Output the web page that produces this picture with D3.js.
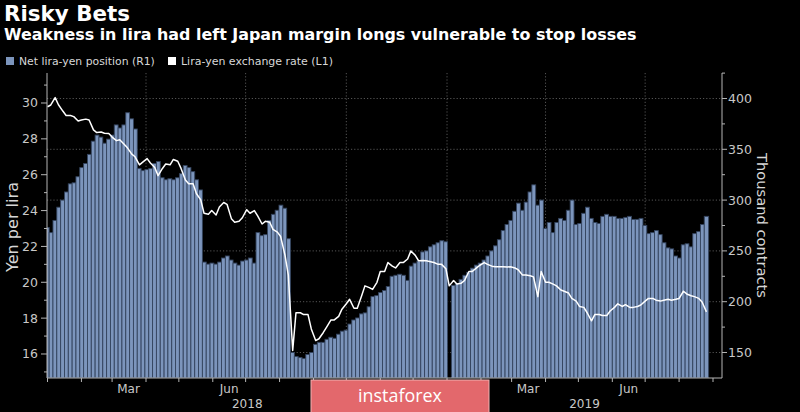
<!DOCTYPE html>
<html><head><meta charset="utf-8">
<script src="https://cdn.jsdelivr.net/npm/d3@7"></script>
<style>
html,body{margin:0;padding:0;background:#000;}
svg{display:block;}
</style></head><body>
<svg id="c" width="800" height="412"></svg>
<script>
// Net lira-yen position (thousand contracts, right axis) — twice-weekly observations
const positions = [
273,268,280,293,300,308,316,317,323,332,
336,345,358,364,362,356,360,364,374,371,
374,386,380,370,331,329,330,331,336,338,
322,320,321,320,322,326,334,332,328,320,
310,239,237,238,237,239,243,245,241,238,
236,240,241,243,238,268,265,266,280,286,
290,295,292,262,150,146,145,144,148,150,
158,160,160,163,165,164,168,171,172,178,
182,184,188,189,195,205,206,209,211,215,
225,226,227,226,221,235,238,240,249,250,
254,256,258,260,259,null,216,218,222,226,
229,233,236,238,241,245,250,255,261,270,
276,280,289,297,290,298,308,315,295,300,
272,278,268,278,282,280,290,300,276,277,
287,293,282,278,277,284,286,284,284,282,
282,283,284,281,281,282,275,267,268,270,
266,258,253,252,245,243,256,257,254,267,
269,276,284
];
// Lira-yen exchange rate (yen per lira, left axis)
const rates = [
29.79,29.89,30.30,29.90,29.55,29.30,29.30,29.24,29.00,29.05,
29.10,29.05,28.50,28.35,28.38,28.31,28.30,28.10,27.90,27.95,
27.70,27.50,27.15,27.00,26.55,26.70,26.90,26.65,26.40,25.95,
26.35,26.60,26.55,26.85,26.75,26.35,25.70,25.50,25.50,24.95,
24.60,23.85,23.80,24.00,23.75,24.20,24.45,24.35,23.55,23.35,
23.40,23.60,24.05,23.85,24.00,23.70,23.25,23.40,23.35,22.95,
22.80,22.55,21.50,20.40,16.20,18.30,18.30,18.20,18.20,17.40,
16.75,16.85,17.20,17.50,17.90,17.90,18.10,18.50,18.80,19.05,
18.55,18.55,19.25,19.80,19.70,19.60,20.00,20.60,20.60,21.10,
20.90,20.80,21.10,21.10,21.30,21.75,21.50,21.20,21.22,21.20,
21.15,21.10,21.00,21.00,20.75,19.80,20.10,19.90,19.95,20.10,
20.60,20.60,20.80,20.95,21.10,21.00,20.90,20.87,20.87,20.87,
20.85,20.87,20.80,20.70,20.40,20.41,20.36,20.30,19.20,20.60,
20.00,20.00,19.90,19.80,19.57,19.50,19.40,19.10,18.95,18.65,
18.60,18.30,17.85,18.20,18.20,18.15,18.15,18.40,18.60,18.80,
18.65,18.75,18.60,18.60,18.65,18.73,18.95,19.10,19.10,19.00,
18.95,19.00,19.05,19.00,19.05,19.10,19.50,19.35,19.25,19.20,
19.10,18.90,18.35
];
// Observation dates: Mondays and Thursdays, Jan 1 2018 - Aug 26 2019
const dates = d3.timeDay.range(new Date(2018,0,1), new Date(2019,7,27))
  .filter(d => d.getDay() === 1 || d.getDay() === 4);

const leftTicks = [16,18,20,22,24,26,28,30];
const leftMinor = [15,17,19,21,23,25,27,29,31];
const rightTicks = [150,200,250,300,350,400];
const rightMinor = [175,225,275,325,375,425];
const monthLabels = ["Mar","Jun","Mar","Jun"];
const monthLabelDates = ["2018-03-16","2018-06-16","2019-03-16","2019-06-16"];
const yearLabels = ["2018","2019"];
const yearStarts = ["2018-01-01","2019-01-01"];
const gridDates = ["2018-04-01","2018-07-01","2018-10-01","2019-01-01","2019-04-01","2019-07-01"];

const title = "Risky Bets";
const subtitle = "Weakness in lira had left Japan margin longs vulnerable to stop losses";
const legendItems = ["Net lira-yen position (R1)", "Lira-yen exchange rate (L1)"];

const svg = d3.select("#c");
const L = 47, R = 722, T = 73, B = 378;
const font = "'DejaVu Sans', sans-serif";
const parse = d3.timeParse("%Y-%m-%d");

const x = d3.scaleTime()
  .domain([new Date(2017,11,31,13), new Date(2019,8,9,5)])
  .range([L, R]);
const yL = d3.scaleLinear().domain([14.661, 31.673]).range([B, T]);
const yR = d3.scaleLinear().domain([124.9, 425.1]).range([B, T]);

function fit(sel, w) {
  const fs = parseFloat(sel.attr("font-size"));
  const len = sel.node().getComputedTextLength();
  if (len > 0) sel.attr("font-size", fs * w / len);
  return sel;
}

svg.append("rect").attr("width",800).attr("height",412).attr("fill","#000");

svg.append("defs").append("clipPath").attr("id","plot")
  .append("rect").attr("x",L).attr("y",T).attr("width",R-L).attr("height",B-T);

// gridlines
const grid = svg.append("g");
grid.selectAll("line.h").data(rightTicks).join("line")
  .attr("x1",L).attr("x2",R).attr("y1",d=>yR(d)).attr("y2",d=>yR(d))
  .attr("stroke","#6a6a6a").attr("stroke-width",0.8).attr("stroke-dasharray","1.2,2");
grid.selectAll("line.v").data(gridDates).join("line")
  .attr("x1",d=>x(parse(d))).attr("x2",d=>x(parse(d))).attr("y1",T).attr("y2",B)
  .attr("stroke","#6a6a6a").attr("stroke-width",0.8).attr("stroke-dasharray","1.2,2");

// bars
const barData = dates.map((d,i) => ({d, v: positions[i], i})).filter(o => o.v != null);
const xs = dates.map(d => x(d));
function edgeL(i){ return i === 0 ? xs[0] - (xs[1]-xs[0])/2 : (xs[i-1]+xs[i])/2; }
function edgeR(i){ return i === xs.length-1 ? xs[i] + (xs[i]-xs[i-1])/2 : (xs[i]+xs[i+1])/2; }
svg.append("g").attr("clip-path","url(#plot)")
  .selectAll("rect").data(barData).join("rect")
  .attr("x", o => edgeL(o.i))
  .attr("width", o => edgeR(o.i) - edgeL(o.i))
  .attr("y", o => yR(o.v))
  .attr("height", o => B - yR(o.v))
  .attr("fill","#7c95bc")
  .attr("stroke","#34445e").attr("stroke-width",0.9);

// line
const line = d3.line().x((d,i)=>x(dates[i])).y(d=>yL(d));
svg.append("path").datum(rates)
  .attr("d", line)
  .attr("fill","none").attr("stroke","#fff").attr("stroke-width",1.5)
  .attr("stroke-linejoin","round");

// axes lines
const axisColor = "#b5b5b5";
svg.append("line").attr("x1",L).attr("x2",L).attr("y1",T).attr("y2",B).attr("stroke",axisColor).attr("stroke-width",1);
svg.append("line").attr("x1",R).attr("x2",R).attr("y1",T).attr("y2",B).attr("stroke",axisColor).attr("stroke-width",1);
svg.append("line").attr("x1",L).attr("x2",R).attr("y1",B).attr("y2",B).attr("stroke",axisColor).attr("stroke-width",1);

const tickColor = "#c8c8c8";
svg.append("g").selectAll("line").data(leftTicks).join("line")
  .attr("x1",L-6).attr("x2",L).attr("y1",d=>yL(d)).attr("y2",d=>yL(d)).attr("stroke",axisColor);
svg.append("g").selectAll("line").data(leftMinor.filter(v=>yL(v)>=T && yL(v)<=B)).join("line")
  .attr("x1",L-3).attr("x2",L).attr("y1",d=>yL(d)).attr("y2",d=>yL(d)).attr("stroke",axisColor);
svg.append("g").selectAll("text").data(leftTicks).join("text")
  .attr("x",L-9).attr("y",d=>yL(d)+4.5).attr("text-anchor","end")
  .attr("font-family",font).attr("font-size",12.5).attr("fill",tickColor).text(d=>d);
svg.append("g").selectAll("line").data(rightTicks).join("line")
  .attr("x1",R).attr("x2",R+5).attr("y1",d=>yR(d)).attr("y2",d=>yR(d)).attr("stroke",axisColor);
svg.append("g").selectAll("line").data(rightMinor.filter(v=>yR(v)>=T && yR(v)<=B)).join("line")
  .attr("x1",R).attr("x2",R+3).attr("y1",d=>yR(d)).attr("y2",d=>yR(d)).attr("stroke",axisColor);
svg.append("g").selectAll("text").data(rightTicks).join("text")
  .attr("x",R+6).attr("y",d=>yR(d)+4.5).attr("text-anchor","start")
  .attr("font-family",font).attr("font-size",12.5).attr("fill",tickColor).text(d=>d);

// bottom month ticks
const months = d3.timeMonth.range(new Date(2018,0,1), new Date(2019,8,2));
svg.append("g").selectAll("line").data(months).join("line")
  .attr("x1",d=>x(d)).attr("x2",d=>x(d)).attr("y1",B).attr("y2",B+4).attr("stroke",axisColor);
svg.append("g").selectAll("text").data(monthLabels).join("text")
  .attr("x",(d,i)=>x(parse(monthLabelDates[i]))).attr("y",393).attr("text-anchor","middle")
  .attr("font-family",font).attr("font-size",12).attr("fill",tickColor).text(d=>d);
svg.append("g").selectAll("text").data(yearLabels).join("text")
  .attr("x",(d,i)=>{
    const a = Math.max(L, x(parse(yearStarts[i])));
    const b = i+1 < yearStarts.length ? x(parse(yearStarts[i+1])) : R;
    return (a+b)/2; })
  .attr("y",408).attr("text-anchor","middle")
  .attr("font-family",font).attr("font-size",12).attr("fill",tickColor).text(d=>d);

// axis titles
fit(svg.append("text").attr("transform","translate(18,227) rotate(-90)")
  .attr("text-anchor","middle").attr("font-family",font).attr("font-size",16)
  .attr("fill","#d6d6d6").text("Yen per lira"), 90);
fit(svg.append("text").attr("transform","translate(757,225.5) rotate(90)")
  .attr("text-anchor","middle").attr("font-family",font).attr("font-size",15)
  .attr("fill","#d6d6d6").text("Thousand contracts"), 145);

// titles
fit(svg.append("text").attr("x",4).attr("y",21).attr("font-family",font).attr("font-weight","bold")
  .attr("font-size",21).attr("fill","#fff").text(title), 126);
fit(svg.append("text").attr("x",4).attr("y",40).attr("font-family",font).attr("font-weight","bold")
  .attr("font-size",15).attr("fill","#fff").text(subtitle), 633);

// legend
const legColors = ["#7c95bc", "#ffffff"];
const legX = [6, 168];
const legW = [136, 152];
legendItems.forEach((t,i) => {
  svg.append("rect").attr("x",legX[i]).attr("y",57).attr("width",8).attr("height",8).attr("fill",legColors[i]);
  fit(svg.append("text").attr("x",legX[i]+13).attr("y",65).attr("font-family",font)
    .attr("font-size",10).attr("fill","#d8d8d8").text(t), legW[i]);
});

// watermark
svg.append("rect").attr("x",311).attr("y",380).attr("width",178).attr("height",34)
  .attr("fill","#e3686c").attr("stroke","#f2b3b3").attr("stroke-width",1);
fit(svg.append("text").attr("x",400).attr("y",402).attr("text-anchor","middle")
  .attr("font-family","'Open Sans', sans-serif").attr("font-size",22).attr("fill","#fff")
  .text("instaforex"), 84);
</script>
</body></html>
